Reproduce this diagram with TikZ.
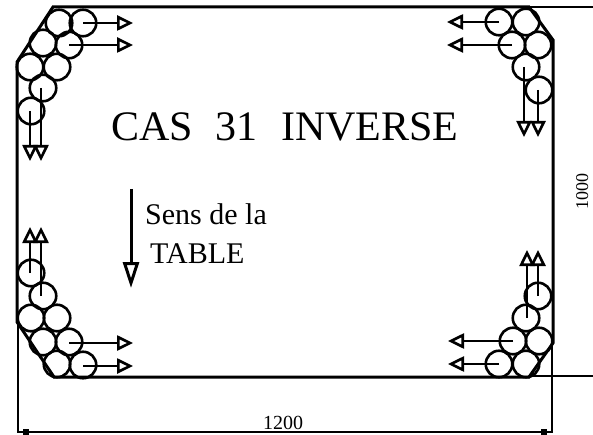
\documentclass[tikz,border=0pt]{standalone}
\usepackage{fontspec}
\setmainfont{Liberation Serif}
\usetikzlibrary{arrows.meta}
\tikzset{
  roll/.style={circle,draw,line width=2.6pt,minimum size=26.5pt,inner sep=0pt},
  table/.style={line width=3pt},
  thin line/.style={line width=1.3pt},
  pull/.style={line width=1.2pt,-{Triangle[open,length=16pt,width=15pt,line width=2.6pt]}},
  label/.style={inner sep=0pt,anchor=base west},
  tick/.style={fill,inner sep=0pt,minimum size=6pt}
}
\begin{document}
\begin{tikzpicture}[x=1pt,y=-1pt]
  \useasboundingbox (0,0) rectangle (593,435);
  % table outline
  \draw[table] (53,7) -- (529,7) -- (553,40) -- (553,343) -- (529,377) -- (54,377) -- (17,322) -- (17,62) -- cycle;
  % rolls, top left
  \foreach \n/\x/\y in {a/59/23,b/83/23,c/43/43,d/69/45,e/30/67,f/57/67,g/43/88,h/31/111} {
    \node[roll] (tl\n) at (\x,\y) {};
  }
  % rolls, top right
  \foreach \n/\x/\y in {a/499/22,b/526/22,c/512/45,d/538/45,e/526/67,f/539/90} {
    \node[roll] (tr\n) at (\x,\y) {};
  }
  % rolls, bottom left
  \foreach \n/\x/\y in {a/31/273,b/43/296,c/31/318,d/57/318,e/43/342,f/69/342,g/57/364,h/83/365} {
    \node[roll] (bl\n) at (\x,\y) {};
  }
  % rolls, bottom right
  \foreach \n/\x/\y in {a/538/296,b/526/318,c/513/341,d/539/341,e/499/364,f/526/364} {
    \node[roll] (br\n) at (\x,\y) {};
  }
  % free ends
  \foreach \n/\x/\y in {pa/133/23,pb/133/45,pc/30/161,pd/41/161,qa/447/22,qb/447/45,qc/524/137,qd/538/137,
      ra/30/227,rb/41/227,sa/133/343,sb/133/366,ta/448/341,tb/448/364,ua/527/250,ub/538/250} {
    \coordinate (\n) at (\x,\y);
  }
  \draw[pull] (tlb.center |- pa) -- (pa);
  \draw[pull] (tld.center |- pb) -- (pb);
  \draw[pull] (tlh.center -| pc) -- (pc);
  \draw[pull] (tlg.center -| pd) -- (pd);
  \draw[pull] (tra.center |- qa) -- (qa);
  \draw[pull] (trc.center |- qb) -- (qb);
  \draw[pull] (tre.center -| qc) -- (qc);
  \draw[pull] (trf.center -| qd) -- (qd);
  \draw[pull] (bla.center -| ra) -- (ra);
  \draw[pull] (blb.center -| rb) -- (rb);
  \draw[pull] (blf.center |- sa) -- (sa);
  \draw[pull] (blh.center |- sb) -- (sb);
  \draw[pull] (brc.center |- ta) -- (ta);
  \draw[pull] (bre.center |- tb) -- (tb);
  \draw[pull] (brb.center -| ua) -- (ua);
  \draw[pull] (bra.center -| ub) -- (ub);
  % table direction
  \coordinate (dira) at (131,189);
  \coordinate (dirb) at (131,288);
  \draw[line width=3pt,-{Triangle[open,length=26pt,width=16pt,line width=3pt]}] (dira) -- (dirb);
  % texts
  \node[label,font=\fontsize{42}{42}\selectfont] (title) at (111,141) {CAS\hspace{0.3em} 31\hspace{0.3em} INVERSE};
  \node[label,font=\fontsize{30}{30}\selectfont] (sens) at (145,225) {Sens de la};
  \node[label,font=\fontsize{30}{30}\selectfont] (tablelab) at (150,263) {TABLE};
  % dimensions
  \coordinate (dla) at (18,322);
  \coordinate (dlb) at (18,432);
  \coordinate (dra) at (552,343);
  \coordinate (drb) at (552,432);
  \coordinate (eta) at (529,7);
  \coordinate (etb) at (593,7);
  \coordinate (eba) at (529,376);
  \coordinate (ebb) at (593,376);
  \draw[thin line] (dla) -- (dlb) -- (drb) -- (dra);
  \draw[thin line] (eta) -- (etb);
  \draw[thin line] (eba) -- (ebb);
  \node[tick] (ticka) at (26,432) {};
  \node[tick] (tickb) at (544,432) {};
  \node[inner sep=0pt,anchor=base,font=\fontsize{20}{20}\selectfont] (wide) at (283,429) {1200};
  \node[inner sep=0pt,anchor=base,rotate=90,font=\fontsize{18}{18}\selectfont] (high) at (588,192) {1000};
\end{tikzpicture}
\end{document}
